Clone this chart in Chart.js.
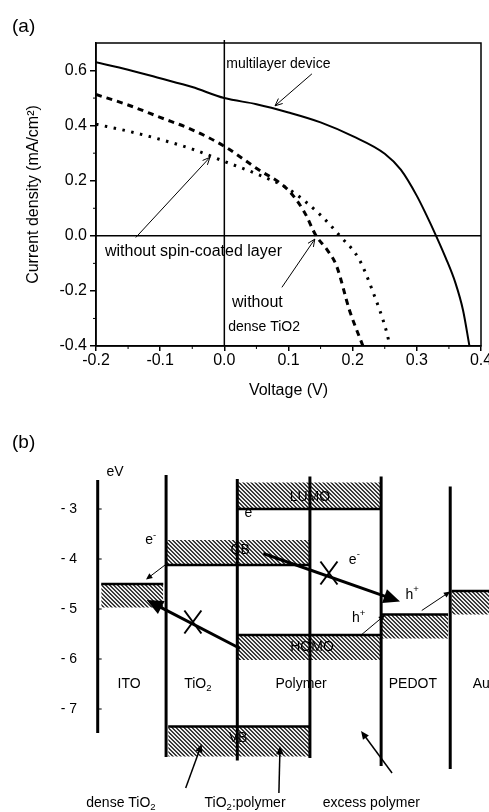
<!DOCTYPE html>
<html>
<head>
<meta charset="utf-8">
<script src="https://cdn.jsdelivr.net/npm/chart.js@4.4.1/dist/chart.umd.min.js"></script>
<style>
  html, body { margin: 0; padding: 0; background: #fff; }
  #wrap { position: relative; width: 489px; height: 812px; overflow: hidden; }
  canvas { position: absolute; left: 0; }
  #ivChart { top: 0; }
  #bandChart { top: 420px; }
</style>
</head>
<body>
<div id="wrap">
  <canvas id="ivChart" width="489" height="420"></canvas>
  <canvas id="bandChart" width="489" height="392"></canvas>
</div>
<script>
// ---- panel (a): J-V curves ----
const multiV = [-0.2, -0.15, -0.1, -0.05, 0, 0.05, 0.1, 0.15, 0.2, 0.25, 0.275, 0.3, 0.315, 0.33, 0.345, 0.36, 0.372, 0.382];
const multiJ = [0.63, 0.603, 0.572, 0.54, 0.50, 0.478, 0.448, 0.412, 0.362, 0.298, 0.24, 0.145, 0.075, 0.0, -0.08, -0.17, -0.27, -0.40];

const noDenseV = [-0.2, -0.15, -0.1, -0.05, 0, 0.05, 0.1, 0.125, 0.143, 0.16, 0.175, 0.195, 0.216];
const noDenseJ = [0.513, 0.475, 0.43, 0.385, 0.325, 0.245, 0.165, 0.085, 0.0, -0.05, -0.11, -0.27, -0.40];

const noSpinV = [-0.2, -0.15, -0.1, -0.05, 0, 0.05, 0.1, 0.15, 0.18, 0.21, 0.232, 0.253, 0.258];
const noSpinJ = [0.405, 0.38, 0.35, 0.315, 0.27, 0.225, 0.17, 0.075, 0.0, -0.085, -0.206, -0.35, -0.40];

const ivNoteText = ['multilayer device', 'without spin-coated layer', 'without', 'dense TiO2'];
const ivNoteX = [0.003, -0.186, 0.012, 0.006];
const ivNoteY = [0.624, -0.059, -0.241, -0.332];
const ivNoteSize = [14, 16, 16, 14];
const ivArrows = [[0.1365, 0.588, 0.079, 0.472], [-0.138, -0.006, -0.0224, 0.285], [0.0897, -0.187, 0.141, -0.012]];

// ---- panel (b): energy levels (eV) ----
const layerNames = ['ITO', 'TiO_2', 'Polymer', 'PEDOT', 'Au'];
const layerNameX = [0.445, 1.42, 2.885, 4.47, 5.44];
const wallPos = [0, 0.97, 1.98, 3.01, 4.02, 5.0];
const wallTop = [-2.42, -2.32, -2.4, -2.35, -2.35, -2.55];
const wallBottom = [-7.48, -7.96, -8.03, -7.98, -8.14, -8.2];

const bandStart = [0.05, 0.97, 1.98, 1.98, 4.03, 5.02, 1.0];
const bandEnd = [0.93, 3.01, 4.02, 4.02, 4.97, 5.6, 3.01];
const bandLine = [-4.5, -4.12, -3.0, -5.52, -5.11, -4.64, -7.35];
const bandFar = [-4.97, -3.62, -2.47, -6.02, -5.59, -5.11, -7.95];

const levelNames = ['LUMO', 'CB', 'HOMO', 'VB'];
const levelNameX = [3.01, 2.02, 3.04, 1.99];
const levelNameY = [-2.76, -3.82, -5.76, -7.58];

const chargeText = ['e^-', 'e', 'e^-', 'h^+', 'h^+'];
const chargeX = [0.753, 2.136, 3.64, 4.46, 3.70];
const chargeY = [-3.63, -3.09, -4.02, -4.72, -5.19];

const thickArrows = [[2.349, -3.89, 4.288, -4.85], [2.02, -5.79, 0.695, -4.82]];
const crossMarks = [[3.28, -4.28], [1.35, -5.26]];
const thinArrows = [[0.955, -4.12, 0.685, -4.41], [3.745, -5.51, 4.075, -5.12], [4.596, -5.03, 5.0, -4.65]];
const noteArrows = [[1.248, -8.58, 1.475, -7.7], [2.57, -8.68, 2.586, -7.74], [4.175, -8.28, 3.735, -7.44]];
const bottomNames = ['dense TiO_2', 'TiO_2:polymer', 'excess polymer'];
const bottomNameX = [0.33, 2.09, 3.88];

const FONT = "'Liberation Sans', Arial, sans-serif";
Chart.defaults.font.family = FONT;
Chart.defaults.color = '#000';

function pts(xs, ys) { return xs.map((x, i) => ({ x: x, y: ys[i] })); }
function fmt(v) { return Math.abs(v) < 1e-9 ? '0.0' : v.toFixed(1); }

function arrow(ctx, x1, y1, x2, y2, w, head, filled) {
  const ang = Math.atan2(y2 - y1, x2 - x1);
  const spread = 0.42;
  ctx.lineWidth = w;
  ctx.beginPath();
  ctx.moveTo(x1, y1);
  if (filled) ctx.lineTo(x2 - Math.cos(ang) * head * 0.7, y2 - Math.sin(ang) * head * 0.7);
  else ctx.lineTo(x2, y2);
  ctx.stroke();
  ctx.beginPath();
  ctx.moveTo(x2 + Math.cos(ang + Math.PI - spread) * head, y2 + Math.sin(ang + Math.PI - spread) * head);
  ctx.lineTo(x2, y2);
  ctx.lineTo(x2 + Math.cos(ang + Math.PI + spread) * head, y2 + Math.sin(ang + Math.PI + spread) * head);
  if (filled) { ctx.closePath(); ctx.fill(); } else ctx.stroke();
}

// split 'TiO_2' / 'e^-' into normal, sub and sup parts
function splitRich(s) {
  const out = [];
  let buf = '';
  for (let i = 0; i < s.length; i++) {
    if ((s[i] === '_' || s[i] === '^') && i + 1 < s.length) {
      if (buf) out.push([buf, 0]);
      buf = '';
      out.push([s[i + 1], s[i] === '^' ? 1 : -1]);
      i++;
    } else buf += s[i];
  }
  if (buf) out.push([buf, 0]);
  return out;
}

function richText(ctx, s, cx, cy, size, align) {
  const parts = splitRich(s);
  const widths = parts.map(p => {
    ctx.font = (p[1] ? size * 0.68 : size) + 'px ' + FONT;
    return ctx.measureText(p[0]).width;
  });
  const total = widths.reduce((a, b) => a + b, 0);
  let x = align === 'left' ? cx : cx - total / 2;
  ctx.textAlign = 'left';
  ctx.textBaseline = 'middle';
  parts.forEach((p, i) => {
    ctx.font = (p[1] ? size * 0.68 : size) + 'px ' + FONT;
    const dy = p[1] === 1 ? -size * 0.38 : p[1] === -1 ? size * 0.3 : 0;
    ctx.fillText(p[0], x, cy + dy);
    x += widths[i];
  });
}

function hatch() {
  const c = document.createElement('canvas');
  c.width = 4; c.height = 4;
  const g = c.getContext('2d');
  g.fillStyle = '#eeeeee';
  g.fillRect(0, 0, 4, 4);
  g.fillStyle = '#3a3a3a';
  for (let i = 0; i < 4; i++) {
    g.fillRect(i, i, 1, 1);
    g.fillRect((i + 1) % 4, i, 1, 1);
  }
  return g.createPattern(c, 'repeat');
}

// ---------------- chart (a) ----------------
const ivDecor = {
  id: 'ivDecor',
  afterDatasetsDraw(chart) {
    const { ctx, chartArea: a, scales: { x, y } } = chart;
    ctx.save();
    ctx.strokeStyle = '#000';
    ctx.fillStyle = '#000';
    ctx.lineWidth = 1.5;
    ctx.strokeRect(a.left, a.top, a.right - a.left, a.bottom - a.top);
    const x0 = x.getPixelForValue(0), y0 = y.getPixelForValue(0);
    ctx.beginPath();
    ctx.moveTo(x0, a.top - 3); ctx.lineTo(x0, a.bottom);
    ctx.moveTo(a.left, y0); ctx.lineTo(a.right, y0);
    ctx.stroke();

    // minor ticks
    ctx.lineWidth = 1;
    ctx.beginPath();
    for (let v = -0.15; v < 0.4; v += 0.1) {
      const px = x.getPixelForValue(v);
      ctx.moveTo(px, a.bottom); ctx.lineTo(px, a.bottom + 3);
    }
    for (let v = -0.3; v < 0.7; v += 0.2) {
      const py = y.getPixelForValue(v);
      ctx.moveTo(a.left, py); ctx.lineTo(a.left - 3, py);
    }
    ctx.stroke();

    // notes and arrows
    ivNoteText.forEach((t, i) => {
      ctx.font = ivNoteSize[i] + 'px ' + FONT;
      ctx.textAlign = 'left';
      ctx.textBaseline = 'middle';
      ctx.fillText(t, x.getPixelForValue(ivNoteX[i]), y.getPixelForValue(ivNoteY[i]));
    });
    ivArrows.forEach(r => {
      arrow(ctx, x.getPixelForValue(r[0]), y.getPixelForValue(r[1]),
        x.getPixelForValue(r[2]), y.getPixelForValue(r[3]), 1, 8, false);
    });

    ctx.font = '19px ' + FONT;
    ctx.textAlign = 'left';
    ctx.textBaseline = 'middle';
    ctx.fillText('(a)', 12, 27);
    ctx.restore();
  }
};

new Chart(document.getElementById('ivChart').getContext('2d'), {
  type: 'line',
  data: {
    datasets: [
      { label: 'multilayer device', data: pts(multiV, multiJ), borderWidth: 2 },
      { label: 'without dense TiO2', data: pts(noDenseV, noDenseJ), borderWidth: 3, borderDash: [6, 5] },
      { label: 'without spin-coated layer', data: pts(noSpinV, noSpinJ), borderWidth: 3, borderDash: [2.5, 6.5] }
    ]
  },
  options: {
    responsive: false,
    animation: false,
    devicePixelRatio: 1,
    layout: { padding: { left: 0, right: 8, top: 43, bottom: 0 } },
    plugins: { legend: { display: false }, tooltip: { enabled: false } },
    elements: {
      point: { radius: 0 },
      line: { borderColor: '#000', cubicInterpolationMode: 'monotone', fill: false }
    },
    scales: {
      x: {
        type: 'linear', min: -0.2, max: 0.4,
        ticks: { stepSize: 0.1, padding: 0, maxRotation: 0, autoSkip: false, font: { size: 16 }, callback: v => fmt(v) },
        grid: { drawOnChartArea: false, color: '#000', tickLength: 5, lineWidth: 1.5 },
        border: { color: '#000', width: 1.5 },
        title: { display: true, text: 'Voltage (V)', font: { size: 16 }, padding: { top: 0, bottom: 20 } },
        afterFit: s => { s.height = 74; s.paddingLeft = 0; s.paddingRight = 0; }
      },
      y: {
        type: 'linear', min: -0.4, max: 0.7,
        ticks: { stepSize: 0.2, padding: 3, autoSkip: false, font: { size: 16 }, callback: v => fmt(v) },
        grid: { drawOnChartArea: false, color: '#000', tickLength: 6, lineWidth: 1.5 },
        border: { color: '#000', width: 1.5 },
        title: { display: true, text: 'Current density (mA/cm²)', font: { size: 16 }, padding: { top: 24, bottom: 0 } },
        afterBuildTicks: s => { s.ticks = s.ticks.filter(t => t.value < 0.65); },
        afterFit: s => { s.width = 96; s.paddingTop = 0; s.paddingBottom = 0; }
      }
    }
  },
  plugins: [ivDecor]
});

// ---------------- chart (b) ----------------
const hatchFill = hatch();

const wallData = [];
wallPos.forEach((p, i) => {
  wallData.push({ x: p, y: wallTop[i] }, { x: p, y: wallBottom[i] }, { x: p, y: null });
});

const bandSets = bandStart.map((s, i) => ({
  data: [{ x: s, y: bandLine[i] }, { x: bandEnd[i], y: bandLine[i] }],
  borderWidth: 2.5,
  fill: { value: bandFar[i] },
  backgroundColor: hatchFill,
  order: 1
}));

const bandDecor = {
  id: 'bandDecor',
  beforeDatasetDraw(chart, args) {
    if (args.index !== 0) return;
    const { ctx, scales: { x, y } } = chart;
    ctx.save();
    ctx.fillStyle = '#000';
    levelNames.forEach((t, i) => {
      richText(ctx, t, x.getPixelForValue(levelNameX[i]), y.getPixelForValue(levelNameY[i]), 14);
    });
    ctx.restore();
  },
  afterDatasetsDraw(chart) {
    const { ctx, scales: { x, y } } = chart;
    const X = v => x.getPixelForValue(v), Y = v => y.getPixelForValue(v);
    ctx.save();
    ctx.strokeStyle = '#000';
    ctx.fillStyle = '#000';
    ctx.lineCap = 'butt';

    // small axis ticks on the left wall
    ctx.lineWidth = 1;
    ctx.beginPath();
    y.ticks.forEach(t => {
      ctx.moveTo(X(wallPos[0]), Y(t.value)); ctx.lineTo(X(wallPos[0]) + 4, Y(t.value));
    });
    ctx.stroke();

    thickArrows.forEach(r => arrow(ctx, X(r[0]), Y(r[1]), X(r[2]), Y(r[3]), 3, 18, true));
    thinArrows.forEach(r => arrow(ctx, X(r[0]), Y(r[1]), X(r[2]), Y(r[3]), 1, 7, true));
    noteArrows.forEach(r => arrow(ctx, X(r[0]), Y(r[1]), X(r[2]), Y(r[3]), 1.5, 9, true));

    ctx.lineWidth = 2;
    crossMarks.forEach(c => {
      const cx = X(c[0]), cy = Y(c[1]);
      ctx.beginPath();
      ctx.moveTo(cx - 8.5, cy - 11.5); ctx.lineTo(cx + 8.5, cy + 11.5);
      ctx.moveTo(cx + 8.5, cy - 11.5); ctx.lineTo(cx - 8.5, cy + 11.5);
      ctx.stroke();
    });

    chargeText.forEach((t, i) => richText(ctx, t, X(chargeX[i]), Y(chargeY[i]), 14));
    layerNames.forEach((t, i) => richText(ctx, t, X(layerNameX[i]), Y(-6.5), 14));
    bottomNames.forEach((t, i) => richText(ctx, t, X(bottomNameX[i]), Y(-8.88), 14));
    richText(ctx, 'eV', X(0.245), Y(-2.26), 14);

    ctx.font = '19px ' + FONT;
    ctx.textAlign = 'left';
    ctx.textBaseline = 'middle';
    ctx.fillText('(b)', 12, 23);
    ctx.restore();
  }
};

new Chart(document.getElementById('bandChart').getContext('2d'), {
  type: 'line',
  data: {
    datasets: [
      { label: 'walls', data: wallData, borderWidth: 3, spanGaps: false, fill: false, order: 0 }
    ].concat(bandSets)
  },
  options: {
    responsive: false,
    animation: false,
    devicePixelRatio: 1,
    layout: { padding: 0 },
    plugins: { legend: { display: false }, tooltip: { enabled: false } },
    elements: { point: { radius: 0 }, line: { borderColor: '#000', tension: 0 } },
    scales: {
      x: { type: 'linear', display: false, min: -0.1, max: 5.55 },
      y: {
        type: 'linear', min: -9.06, max: -1.22,
        ticks: { stepSize: 1, padding: 13.6, autoSkip: false, font: { size: 14 }, callback: v => '- ' + Math.abs(v) },
        grid: { display: false, drawTicks: false },
        border: { display: false },
        afterBuildTicks: s => {
          s.ticks = s.ticks.filter(t => Number.isInteger(t.value) && t.value <= -3 && t.value >= -7);
        },
        afterFit: s => { s.width = 90.65; s.paddingTop = 0; s.paddingBottom = 0; }
      }
    }
  },
  plugins: [bandDecor]
});
</script>
</body>
</html>
